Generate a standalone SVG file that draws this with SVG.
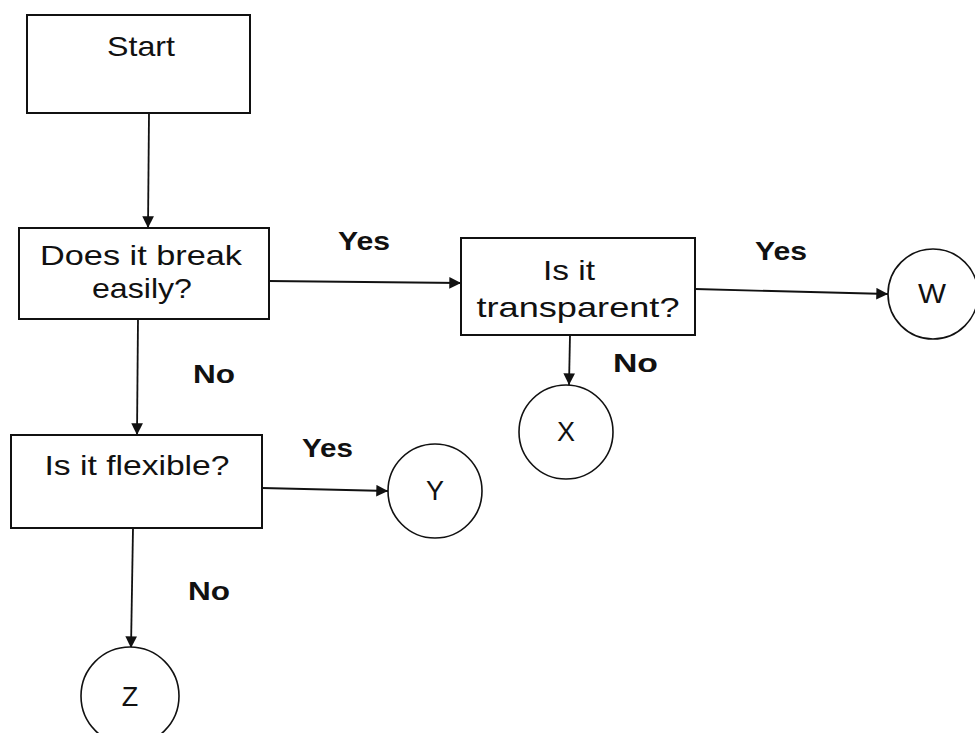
<svg xmlns="http://www.w3.org/2000/svg" width="975" height="733" viewBox="0 0 975 733">
<defs>
<style>
.box{fill:#fff;stroke:#111;stroke-width:2}
.circ{fill:#fff;stroke:#111;stroke-width:1.6}
.t{font-family:"Liberation Sans",Arial,sans-serif;font-size:28px;fill:#111;text-anchor:middle}
.c{font-family:"Liberation Sans",Arial,sans-serif;font-size:27px;fill:#111;text-anchor:middle}
.lbl{font-family:"Liberation Sans",Arial,sans-serif;font-size:26px;font-weight:bold;fill:#111}
.edge{stroke:#111;stroke-width:1.8;fill:none;marker-end:url(#ah)}
</style>
<marker id="ah" viewBox="0 0 10 10" refX="10" refY="5" markerWidth="8" markerHeight="6.5" markerUnits="strokeWidth" orient="auto">
<path d="M0,0 L10,5 L0,10 z" fill="#111"/>
</marker>
</defs>
<rect width="975" height="733" fill="#fff"/>
<g id="connectors">
<line class="edge" x1="149" y1="113" x2="148" y2="228"/>
<line class="edge" x1="268" y1="281" x2="461" y2="283"/>
<line class="edge" x1="695" y1="289" x2="888" y2="294"/>
<line class="edge" x1="570" y1="335" x2="569" y2="385"/>
<line class="edge" x1="138" y1="318" x2="137" y2="435"/>
<line class="edge" x1="262" y1="488" x2="388" y2="491"/>
<line class="edge" x1="133" y1="528" x2="131" y2="648"/>
</g>
<g id="start">
<rect class="box" x="27" y="15" width="223" height="98"/>
<text class="t" x="141" y="56" textLength="68" lengthAdjust="spacingAndGlyphs">Start</text>
</g>
<g id="break">
<rect class="box" x="19" y="228" width="250" height="91"/>
<text class="t" x="141" y="265" textLength="202" lengthAdjust="spacingAndGlyphs">Does it break</text>
<text class="t" x="142" y="298" textLength="100" lengthAdjust="spacingAndGlyphs">easily?</text>
</g>
<g id="transparent">
<rect class="box" x="461" y="238" width="234" height="97"/>
<text class="t" x="569" y="280" textLength="52" lengthAdjust="spacingAndGlyphs">Is it</text>
<text class="t" x="578" y="317" textLength="203" lengthAdjust="spacingAndGlyphs">transparent?</text>
</g>
<g id="flexible">
<rect class="box" x="11" y="435" width="251" height="93"/>
<text class="t" x="137" y="475" textLength="185" lengthAdjust="spacingAndGlyphs">Is it flexible?</text>
</g>
<g id="w">
<circle class="circ" cx="933" cy="294" r="45"/>
<text class="c" x="932" y="303" textLength="28" lengthAdjust="spacingAndGlyphs">W</text>
</g>
<g id="x">
<circle class="circ" cx="566" cy="432" r="47"/>
<text class="c" x="566" y="441">X</text>
</g>
<g id="y">
<circle class="circ" cx="435" cy="491" r="47"/>
<text class="c" x="435" y="500">Y</text>
</g>
<g id="z">
<circle class="circ" cx="130" cy="696" r="49"/>
<text class="c" x="130" y="706">Z</text>
</g>
<g id="labels">
<text class="lbl" x="338" y="250" textLength="52" lengthAdjust="spacingAndGlyphs">Yes</text>
<text class="lbl" x="755" y="260" textLength="52" lengthAdjust="spacingAndGlyphs">Yes</text>
<text class="lbl" x="302" y="457" textLength="51" lengthAdjust="spacingAndGlyphs">Yes</text>
<text class="lbl" x="193" y="383" textLength="42" lengthAdjust="spacingAndGlyphs">No</text>
<text class="lbl" x="613" y="372" textLength="45" lengthAdjust="spacingAndGlyphs">No</text>
<text class="lbl" x="188" y="600" textLength="42" lengthAdjust="spacingAndGlyphs">No</text>
</g>
</svg>
